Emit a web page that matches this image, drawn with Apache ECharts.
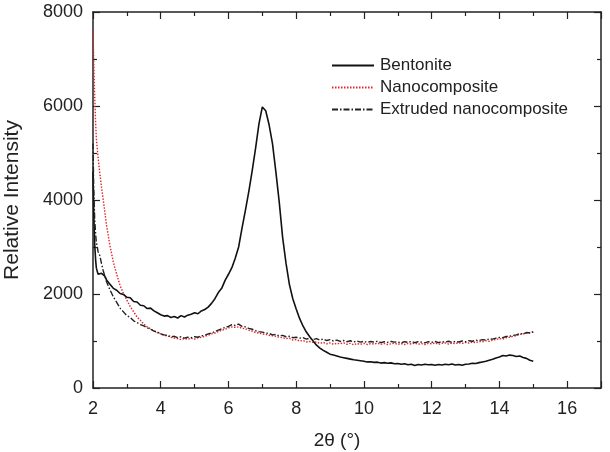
<!DOCTYPE html>
<html lang="en">

<head>
    <meta charset="UTF-8">
    <title>XRD patterns</title>
    <script src="https://cdn.jsdelivr.net/npm/echarts@6/dist/echarts.min.js"></script>
</head>

<body style="margin:0;background:#fff">
    <div id="main" style="width: 610px; height: 452px;"></div>
    <script>
        // 2theta sampling (degrees), dense at the start where curves fall fast
        const theta = [
            2.0, 2.02, 2.05, 2.08, 2.1, 2.15, 2.2, 2.25, 2.3, 2.35, 2.4,
            2.5, 2.6, 2.7, 2.8, 2.9,
            3.0, 3.1, 3.2, 3.3, 3.4, 3.5, 3.6, 3.7, 3.8, 3.9,
            4.0, 4.1, 4.2, 4.3, 4.4, 4.5, 4.6, 4.7, 4.8, 4.9,
            5.0, 5.1, 5.2, 5.3, 5.4, 5.5, 5.6, 5.7, 5.8, 5.9,
            6.0, 6.1, 6.2, 6.3, 6.4, 6.5, 6.6, 6.7, 6.8, 6.9,
            7.0, 7.1, 7.2, 7.3, 7.4, 7.5, 7.6, 7.7, 7.8, 7.9,
            8.0, 8.1, 8.2, 8.3, 8.4, 8.5, 8.6, 8.7, 8.8, 8.9,
            9.0, 9.1, 9.2, 9.3, 9.4, 9.5, 9.6, 9.7, 9.8, 9.9,
            10.0, 10.1, 10.2, 10.3, 10.4, 10.5, 10.6, 10.7, 10.8, 10.9,
            11.0, 11.1, 11.2, 11.3, 11.4, 11.5, 11.6, 11.7, 11.8, 11.9,
            12.0, 12.1, 12.2, 12.3, 12.4, 12.5, 12.6, 12.7, 12.8, 12.9,
            13.0, 13.1, 13.2, 13.3, 13.4, 13.5, 13.6, 13.7, 13.8, 13.9,
            14.0, 14.1, 14.2, 14.3, 14.4, 14.5, 14.6, 14.7, 14.8, 14.9,
            15.0
        ];

        const bentonite = [
            4600, 3800, 3050, 2700, 2550, 2420, 2380, 2440, 2460, 2380, 2300,
            2210, 2120, 2080, 2010, 1990,
            1930, 1920, 1840, 1830, 1760, 1750, 1690, 1700, 1640, 1600,
            1560, 1530, 1540, 1500, 1520, 1490, 1540, 1510, 1550, 1570,
            1600, 1580, 1640, 1670, 1720, 1800, 1900, 2030, 2120, 2290,
            2420, 2560, 2760, 3000, 3400, 3780, 4180, 4620, 5100, 5620,
            5980, 5900, 5600, 5200, 4600, 3950, 3200, 2650, 2200, 1900,
            1680, 1480, 1320, 1190, 1090, 1000, 910, 850, 800, 760,
            720, 700, 680, 660, 645, 630, 615, 600, 590, 580,
            570, 555, 560, 545, 550, 530, 540, 525, 535, 515,
            520, 505, 515, 495, 505, 480, 500, 490, 505, 495,
            500, 485, 500, 490, 505, 495, 510, 490, 500, 485,
            505, 510, 525, 520, 540, 555, 570, 590, 610, 640,
            660, 690, 680, 700, 690, 670, 680, 650, 630, 590,
            570
        ];

        const nanocomposite = [
            7600, 7000, 6200, 5600, 5300, 4900, 4580, 4280, 4020, 3740, 3460,
            3030, 2680, 2420, 2180, 2010,
            1870, 1730, 1620, 1510, 1440, 1360, 1300, 1260, 1220, 1180,
            1150, 1120, 1110, 1080, 1060, 1050, 1030, 1050, 1040, 1060,
            1040, 1070, 1080, 1100, 1120, 1150, 1170, 1200, 1230, 1250,
            1280, 1300, 1290, 1300, 1270, 1260, 1230, 1210, 1180, 1170,
            1150, 1140, 1120, 1110, 1100, 1080, 1070, 1050, 1060, 1020,
            1030, 1000, 1010, 980, 990, 970, 980, 950, 970, 940,
            960, 930, 950, 940, 960, 930, 950, 920, 945, 930,
            950, 925, 945, 935, 955, 930, 950, 925, 940, 950,
            930, 945, 925, 950, 935, 955, 930, 945, 925, 950,
            940, 955, 930, 950, 960, 935, 955, 945, 965, 950,
            970, 955, 980, 965, 990, 985, 1005, 995, 1020, 1030,
            1050, 1040, 1070, 1080, 1100, 1110, 1140, 1150, 1170, 1180,
            1200
        ];

        const extruded = [
            5200, 4300, 3600, 3250, 3100, 2900, 2820, 2650, 2500, 2380, 2260,
            2090, 1940, 1820, 1700, 1620,
            1540, 1500, 1430, 1390, 1350, 1320, 1280, 1250, 1210, 1190,
            1150, 1130, 1120, 1090, 1100, 1070, 1090, 1060, 1080, 1070,
            1090, 1080, 1110, 1120, 1150, 1170, 1200, 1230, 1260, 1290,
            1310, 1350, 1330, 1360, 1310, 1300, 1270, 1250, 1220, 1200,
            1190, 1170, 1160, 1130, 1140, 1110, 1120, 1090, 1100, 1070,
            1080, 1060, 1070, 1040, 1060, 1030, 1050, 1020, 1040, 1010,
            1030, 1000, 1020, 990, 1010, 985, 1005, 980, 1000, 975,
            995, 970, 990, 975, 995, 965, 985, 970, 990, 975,
            980, 960, 985, 970, 990, 965, 985, 975, 960, 985,
            970, 990, 965, 985, 975, 995, 970, 990, 980, 1000,
            985, 1005, 995, 1015, 1010, 1030, 1020, 1045, 1040, 1060,
            1075, 1070, 1095, 1100, 1120, 1130, 1160, 1150, 1180, 1170,
            1190
        ];

        const seriesNames = ['Bentonite', 'Nanocomposite', 'Extruded nanocomposite'];

        const font = "'Liberation Sans', Arial, sans-serif";
        const ink = '#222';

        function pairs(ys) {
            return theta.map((t, i) => [t, ys[i]]);
        }

        function frameAxis(extra) {
            return Object.assign({
                type: 'value',
                axisLine: { show: true, onZero: false, lineStyle: { color: ink, width: 1.5 } },
                axisTick: { show: true, inside: true, length: 7, lineStyle: { color: ink, width: 1.2 } },
                minorTick: { show: true, splitNumber: 2, length: 4, lineStyle: { color: ink, width: 1.2 } },
                splitLine: { show: false },
                axisLabel: { show: false }
            }, extra);
        }

        const labelStyle = { show: true, color: ink, fontSize: 18, fontFamily: font };

        const option = {
            animation: false,
            backgroundColor: '#fff',
            grid: { left: 93, right: 9, top: 12, bottom: 64, outerBoundsMode: 'none', containLabel: false },
            legend: {
                orient: 'vertical',
                left: 326,
                top: 52,
                itemWidth: 42,
                itemHeight: 14,
                itemGap: 5,
                data: seriesNames,
                itemStyle: { opacity: 0 },
                textStyle: { fontSize: 17, fontFamily: font, color: ink, lineHeight: 17, padding: [0, 0, 0, 1] }
            },
            xAxis: [
                frameAxis({
                    min: 2, max: 17, interval: 2,
                    position: 'bottom',
                    axisLabel: Object.assign({ margin: 12, showMaxLabel: false }, labelStyle),
                    name: '2θ (°)',
                    nameLocation: 'middle',
                    nameGap: 43,
                    nameTextStyle: { fontSize: 19, fontFamily: font, color: ink, padding: [0, 20, 0, 0] }
                }),
                frameAxis({ min: 2, max: 17, interval: 2, position: 'top' })
            ],
            yAxis: [
                frameAxis({
                    min: 0, max: 8000, interval: 2000,
                    position: 'left',
                    axisLabel: Object.assign({ margin: 10, formatter: v => String(v) }, labelStyle),
                    name: 'Relative Intensity',
                    nameLocation: 'middle',
                    nameGap: 70,
                    nameTextStyle: { fontSize: 21, fontFamily: font, color: ink }
                }),
                frameAxis({ min: 0, max: 8000, interval: 2000, position: 'right' })
            ],
            series: [
                {
                    name: seriesNames[0],
                    type: 'line',
                    symbol: 'none',
                    data: pairs(bentonite),
                    lineStyle: { color: '#111', width: 1.6 },
                    itemStyle: { color: '#111' },
                    z: 3
                },
                {
                    name: seriesNames[1],
                    type: 'line',
                    symbol: 'none',
                    data: pairs(nanocomposite),
                    lineStyle: { color: '#e3262b', width: 1.4, type: [1.5, 1.5] },
                    itemStyle: { color: '#e3262b' },
                    z: 2
                },
                {
                    name: seriesNames[2],
                    type: 'line',
                    symbol: 'none',
                    data: pairs(extruded),
                    lineStyle: { color: '#222', width: 1.4, type: [6, 2, 1.5, 2] },
                    itemStyle: { color: '#222' },
                    z: 4
                }
            ]
        };

        const myChart = echarts.init(document.getElementById('main'));
        myChart.setOption(option);
    </script>
</body>
</html>
